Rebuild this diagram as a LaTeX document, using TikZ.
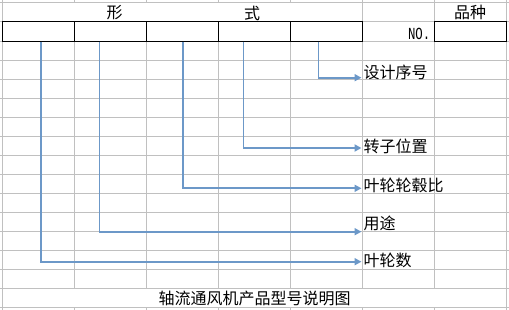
\documentclass[tikz,border=0pt]{standalone}
\usepackage{fontspec}
\usetikzlibrary{arrows.meta}
\newfontfamily\cjk{Noto Sans CJK SC}
\newfontfamily\monof{Liberation Mono}
\definecolor{gridgray}{RGB}{192,192,192}
\definecolor{arrowblue}{RGB}{108,152,200}
\tikzset{
  gridline/.style={draw=gridgray, line width=0.9pt},
  cellbox/.style={draw=black, line width=0.9pt, rectangle, inner sep=0pt, minimum height=20.3pt},
  lbl/.style={font=\cjk\fontsize{16}{16}\selectfont, inner sep=0pt, anchor=west},
  hdr/.style={font=\cjk\fontsize{16}{16}\selectfont, inner sep=0pt},
  arr/.style={draw=arrowblue, line width=1.8pt, -{Triangle[length=7pt,width=7pt]}}
}
\begin{document}
\begin{tikzpicture}[x=1pt,y=-1pt]
\useasboundingbox (0,0) rectangle (509,310);
% horizontal grid lines
\foreach \yy in {2.5,21,41.3,60.7,79.3,98.3,117.7,136.7,155.5,174.3,193,212.3,231.5,250,269.3,288.3,307.7}
  \draw[gridline] (0,\yy) -- (509,\yy);
% vertical grid lines (edges)
\foreach \xx in {2.5,506.5}
  \draw[gridline] (\xx,0) -- (\xx,310);
\foreach \xx in {362.5,434.3}
  {\draw[gridline] (\xx,0) -- (\xx,288.3);
   \draw[gridline] (\xx,307.7) -- (\xx,310);}
\foreach \xx in {74,146.5,218.5,290}
  {\draw[gridline] (\xx,0) -- (\xx,2.5);
   \draw[gridline] (\xx,21) -- (\xx,288.3);
   \draw[gridline] (\xx,307.7) -- (\xx,310);}
% boxes
\node[cellbox, minimum width=71.5pt] (b1) at (38.25,31.15) {};
\node[cellbox, minimum width=72.5pt] (b2) at (110.25,31.15) {};
\node[cellbox, minimum width=72pt] (b3) at (182.5,31.15) {};
\node[cellbox, minimum width=71.5pt] (b4) at (254.25,31.15) {};
\node[cellbox, minimum width=72.5pt] (b5) at (326.25,31.15) {};
\node[cellbox, minimum width=72.2pt] (b7) at (470.4,31.15) {};
% headers
\node[hdr] (h1) at (114.5,13) {形};
\node[hdr] (h2) at (252,13) {式};
\node[hdr] (h3) at (470,12.5) {品种};
\node[inner sep=0pt, anchor=east] (no) at (430.5,33.5) {\scalebox{0.95}[1.3]{\monof\fontsize{13}{13}\selectfont NO.}};
% labels
\node[lbl] (l5) at (363.3,72.5) {设计序号};
\node[lbl] (l4) at (363.3,146.5) {转子位置};
\node[lbl] (l3) at (363.3,185.5) {叶轮轮毂比};
\node[lbl] (l2) at (363.3,223.5) {用途};
\node[lbl] (l1) at (363.3,260.5) {叶轮数};
% caption
\node[hdr] (cap) at (254.5,298) {轴流通风机产品型号说明图};
% arrows
\draw[arr] ([xshift=29pt]b5.south west) |- ([xshift=-1.8pt,yshift=-5.2pt]l5.west);
\draw[arr] ([xshift=25.5pt]b4.south west) |- ([xshift=-1.8pt,yshift=-1.5pt]l4.west);
\draw[arr] ([xshift=36.8pt]b3.south west) |- ([xshift=-1.8pt,yshift=-2.8pt]l3.west);
\draw[arr] ([xshift=26pt]b2.south west) |- ([xshift=-1.8pt,yshift=-8.2pt]l2.west);
\draw[arr] ([xshift=39.2pt]b1.south west) |- ([xshift=-1.8pt,yshift=-1.2pt]l1.west);
\end{tikzpicture}
\end{document}
